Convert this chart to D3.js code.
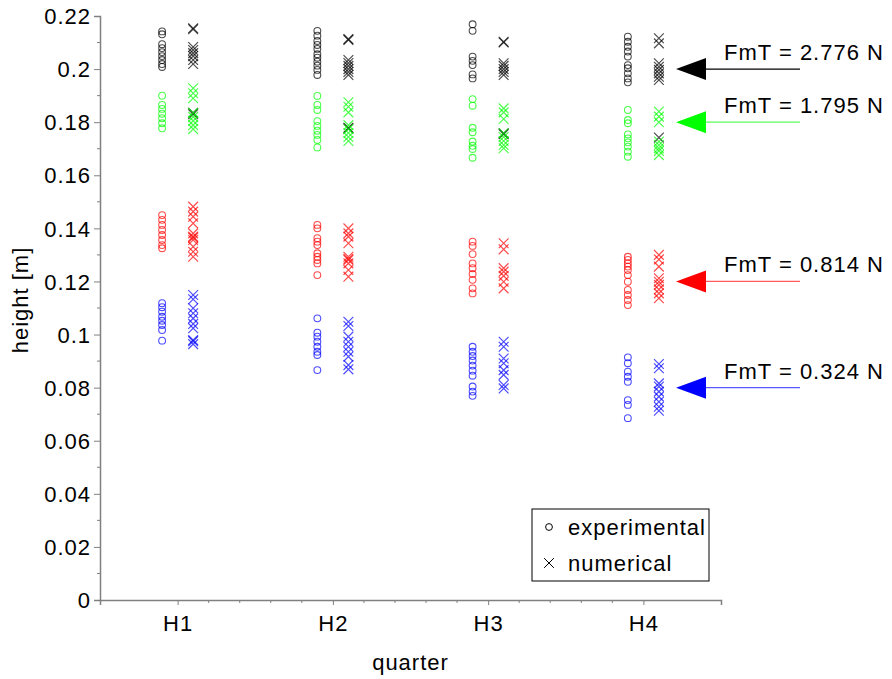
<!DOCTYPE html>
<html>
<head>
<meta charset="utf-8">
<script src="https://cdn.jsdelivr.net/npm/d3@7"></script>
<style>
  body { margin: 0; background: #fff; }
  svg text { font-family: "Liberation Sans", Arial, sans-serif; fill: #000; letter-spacing: 1px; }
</style>
</head>
<body>
<svg id="chart" width="892" height="679"></svg>
<script>
// Quarters on the x axis
const quarters = ['H1', 'H2', 'H3', 'H4'];

// Force levels (one per colour), with the reference height each arrow points to
const forceLabels = ['FmT = 2.776 N', 'FmT = 1.795 N', 'FmT = 0.814 N', 'FmT = 0.324 N'];
const forceColors = ['#000000', '#00ff00', '#ff0000', '#0000ff'];
const arrowLevels = [0.2, 0.18, 0.12, 0.08];

// Experimental heights [m], one list per quarter
const expBlack = [
    [0.2142, 0.2131, 0.2094, 0.2079, 0.2064, 0.2049, 0.2034, 0.2019, 0.2008],
    [0.2144, 0.2126, 0.2106, 0.2091, 0.2076, 0.2056, 0.2043, 0.2028, 0.2013, 0.1997, 0.1978],
    [0.2169, 0.2144, 0.2047, 0.2031, 0.2015, 0.1980, 0.1965],
    [0.2122, 0.2103, 0.2084, 0.2066, 0.2047, 0.2015, 0.2003, 0.1984, 0.1965, 0.1950]
];
const expGreen = [
    [0.1900, 0.1865, 0.1850, 0.1832, 0.1815, 0.1796, 0.1777],
    [0.1899, 0.1865, 0.1846, 0.1804, 0.1786, 0.1768, 0.1752, 0.1733, 0.1705],
    [0.1887, 0.1862, 0.1779, 0.1762, 0.1727, 0.1711, 0.1699, 0.1666],
    [0.1846, 0.1808, 0.1796, 0.1754, 0.1739, 0.1724, 0.1708, 0.1689, 0.1670]
];
const expRed = [
    [0.1450, 0.1432, 0.1413, 0.1394, 0.1375, 0.1356, 0.1337, 0.1325],
    [0.1413, 0.1400, 0.1363, 0.1350, 0.1337, 0.1306, 0.1293, 0.1281, 0.1268, 0.1224],
    [0.1350, 0.1334, 0.1303, 0.1268, 0.1250, 0.1228, 0.1206, 0.1174, 0.1155],
    [0.1293, 0.1281, 0.1268, 0.1256, 0.1243, 0.1224, 0.1199, 0.1168, 0.1149, 0.1130, 0.1111]
];
const expBlue = [
    [0.1118, 0.1103, 0.1086, 0.1067, 0.1052, 0.1036, 0.1017, 0.0977],
    [0.1061, 0.1007, 0.0992, 0.0973, 0.0954, 0.0935, 0.0923, 0.0866],
    [0.0954, 0.0935, 0.0919, 0.0902, 0.0883, 0.0864, 0.0845, 0.0804, 0.0785, 0.0769],
    [0.0914, 0.0892, 0.0860, 0.0841, 0.0822, 0.0753, 0.0735, 0.0685]
];

// Numerical heights [m], one list per quarter
const numBlack = [
    [0.2154, 0.2150, 0.2083, 0.2072, 0.2060, 0.2049, 0.2034, 0.2019, 0.1835, 0.1830],
    [0.2113, 0.2110, 0.2034, 0.2023, 0.2012, 0.2000, 0.1989, 0.1978, 0.1779, 0.1776],
    [0.2103, 0.2100, 0.2022, 0.2012, 0.2000, 0.1989, 0.1978, 0.1758, 0.1755],
    [0.2116, 0.2097, 0.2022, 0.2009, 0.1997, 0.1984, 0.1971, 0.1959, 0.1742]
];
const numGreen = [
    [0.1928, 0.1909, 0.1890, 0.1835, 0.1820, 0.1805, 0.1789, 0.1774],
    [0.1875, 0.1858, 0.1837, 0.1789, 0.1774, 0.1759, 0.1744, 0.1729],
    [0.1852, 0.1837, 0.1812, 0.1758, 0.1744, 0.1729, 0.1714, 0.1702],
    [0.1840, 0.1821, 0.1800, 0.1727, 0.1714, 0.1702, 0.1692, 0.1676]
];
const numRed = [
    [0.1482, 0.1463, 0.1444, 0.1419, 0.1381, 0.1369, 0.1365, 0.1356, 0.1331, 0.1312, 0.1293],
    [0.1400, 0.1381, 0.1369, 0.1344, 0.1293, 0.1285, 0.1281, 0.1268, 0.1243, 0.1218],
    [0.1344, 0.1321, 0.1250, 0.1237, 0.1221, 0.1199, 0.1174],
    [0.1300, 0.1283, 0.1256, 0.1212, 0.1199, 0.1187, 0.1170, 0.1155, 0.1137]
];
const numBlue = [
    [0.1149, 0.1133, 0.1099, 0.1080, 0.1061, 0.1040, 0.1024, 0.0979, 0.0975, 0.0964],
    [0.1048, 0.1032, 0.0992, 0.0973, 0.0954, 0.0935, 0.0917, 0.0885, 0.0869],
    [0.0973, 0.0954, 0.0910, 0.0892, 0.0866, 0.0848, 0.0810, 0.0797],
    [0.0889, 0.0873, 0.0816, 0.0804, 0.0785, 0.0766, 0.0747, 0.0728, 0.0713]
];

const expSeries = [expBlack, expGreen, expRed, expBlue];
const numSeries = [numBlack, numGreen, numRed, numBlue];

// Layout
const svg = d3.select('#chart');
const plot = { left: 100, right: 721, top: 16, bottom: 600 };
const x = d3.scaleLinear().domain([0.5, 4.5]).range([plot.left, plot.right]);
const y = d3.scaleLinear().domain([0, 0.22]).range([plot.bottom, plot.top]);
const axisColor = '#808080';
const offset = 0.1;
const fontSize = '22px';

// Y axis: major ticks with labels, minor ticks between
const yAxis = svg.append('g')
    .attr('transform', `translate(${plot.left},0)`)
    .call(d3.axisLeft(y)
        .tickValues(d3.range(0, 0.2201, 0.02))
        .tickSize(6)
        .tickPadding(3)
        .tickFormat(d => d === 0 ? '0' : d3.format('.2~f')(d)));
yAxis.selectAll('text').style('font-size', fontSize).attr('dy', '0.35em');
yAxis.select('.domain').attr('stroke', axisColor).attr('stroke-width', 1.5);
yAxis.selectAll('.tick line').attr('stroke', axisColor);

svg.append('g')
    .selectAll('line')
    .data(d3.range(0.01, 0.22, 0.02))
    .join('line')
    .attr('x1', plot.left - 3).attr('x2', plot.left)
    .attr('y1', d => y(d)).attr('y2', d => y(d))
    .attr('stroke', axisColor);

// X axis
const xAxis = svg.append('g')
    .attr('transform', `translate(0,${plot.bottom})`)
    .call(d3.axisBottom(x)
        .tickValues([1, 2, 3, 4])
        .tickSize(5)
        .tickPadding(10)
        .tickFormat((d, i) => quarters[i]));
xAxis.selectAll('text').style('font-size', fontSize);
xAxis.select('.domain').attr('stroke', axisColor).attr('stroke-width', 1.5);
xAxis.selectAll('.tick line').attr('stroke', axisColor);

svg.append('g')
    .selectAll('line')
    .data(d3.range(1.2, 4.0, 0.2).filter(d => Math.abs(d - Math.round(d)) > 0.01))
    .join('line')
    .attr('x1', d => x(d)).attr('x2', d => x(d))
    .attr('y1', plot.bottom).attr('y2', plot.bottom + 3)
    .attr('stroke', axisColor);

// Axis titles
svg.append('text')
    .attr('transform', 'translate(28,300) rotate(-90)')
    .attr('text-anchor', 'middle')
    .style('font-size', fontSize)
    .text('height [m]');

svg.append('text')
    .attr('x', (plot.left + plot.right) / 2)
    .attr('y', 670)
    .attr('text-anchor', 'middle')
    .style('font-size', fontSize)
    .text('quarter');

// Markers
const marks = svg.append('g');
expSeries.forEach((series, s) => {
    series.forEach((vals, q) => {
        marks.append('g')
            .selectAll('circle')
            .data(vals)
            .join('circle')
            .attr('cx', x(q + 1 - offset))
            .attr('cy', d => y(d))
            .attr('r', 3.4)
            .attr('fill', 'none')
            .attr('stroke', forceColors[s])
            .attr('stroke-opacity', 0.7)
            .attr('stroke-width', 1.1);
    });
});

const cross = d3.symbol().type(d3.symbolX).size(64);
numSeries.forEach((series, s) => {
    series.forEach((vals, q) => {
        marks.append('g')
            .selectAll('path')
            .data(vals)
            .join('path')
            .attr('transform', d => `translate(${x(q + 1 + offset)},${y(d)})`)
            .attr('d', cross)
            .attr('fill', 'none')
            .attr('stroke', forceColors[s])
            .attr('stroke-opacity', 0.7)
            .attr('stroke-width', 1.2);
    });
});

// Arrows with force labels
const arrows = svg.append('g');
arrowLevels.forEach((lvl, i) => {
    const yy = y(lvl);
    arrows.append('line')
        .attr('x1', 705).attr('x2', 800)
        .attr('y1', yy).attr('y2', yy)
        .attr('stroke', forceColors[i])
        .attr('stroke-opacity', i === 0 ? 1 : 0.65)
        .attr('stroke-width', 1.2);
    arrows.append('path')
        .attr('d', `M676,${yy} L706,${yy - 11} L706,${yy + 11} Z`)
        .attr('fill', forceColors[i]);
    arrows.append('text')
        .attr('x', 724)
        .attr('y', yy - 9)
        .style('font-size', fontSize)
        .text(forceLabels[i]);
});

// Legend
const legend = svg.append('g');
legend.append('rect')
    .attr('x', 532).attr('y', 509)
    .attr('width', 177).attr('height', 72)
    .attr('fill', '#fff')
    .attr('stroke', '#000')
    .attr('stroke-width', 1);
legend.append('circle')
    .attr('cx', 549).attr('cy', 527).attr('r', 3.4)
    .attr('fill', 'none').attr('stroke', '#000').attr('stroke-width', 1);
legend.append('path')
    .attr('transform', 'translate(549,563)')
    .attr('d', cross)
    .attr('fill', 'none').attr('stroke', '#000').attr('stroke-width', 1);
legend.append('text')
    .attr('x', 568).attr('y', 535)
    .style('font-size', fontSize)
    .text('experimental');
legend.append('text')
    .attr('x', 568).attr('y', 571)
    .style('font-size', fontSize)
    .text('numerical');
</script>
</body>
</html>
